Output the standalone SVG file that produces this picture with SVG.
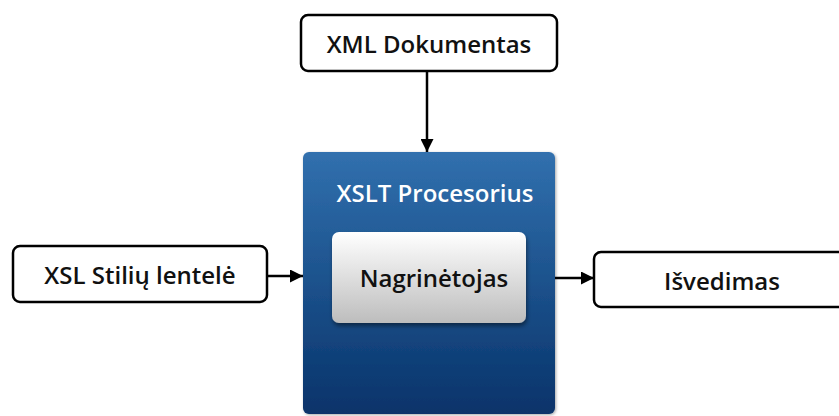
<svg xmlns="http://www.w3.org/2000/svg" width="839" height="416" viewBox="0 0 839 416">
<defs>
<linearGradient id="blue" x1="0" y1="0" x2="0" y2="1">
<stop offset="0" stop-color="#3170ae"/>
<stop offset="1" stop-color="#07336a"/>
</linearGradient>
<linearGradient id="grey" x1="0" y1="0" x2="0" y2="1">
<stop offset="0" stop-color="#ffffff"/>
<stop offset="1" stop-color="#bdbdbd"/>
</linearGradient>
<filter id="sh" x="-20%" y="-20%" width="140%" height="150%">
<feDropShadow dx="1" dy="3" stdDeviation="2" flood-color="#000" flood-opacity="0.45"/>
</filter>
<filter id="sh2" x="-20%" y="-20%" width="140%" height="140%">
<feDropShadow dx="1" dy="1" stdDeviation="1.5" flood-color="#000" flood-opacity="0.35"/>
</filter>
<marker id="arr" viewBox="0 0 10 10" refX="10" refY="5" markerWidth="13" markerHeight="13" markerUnits="userSpaceOnUse" orient="auto">
<path d="M0,0 L10,5 L0,10 z" fill="#000"/>
</marker>
</defs>
<style>
.box{fill:#fff;stroke:#000;stroke-width:2.5}
.t{font-family:"Open Sans","DejaVu Sans",sans-serif;font-size:24px;font-weight:600;text-anchor:middle;fill:#111}
.edge{stroke:#000;stroke-width:2.5;fill:none}
</style>
<g id="connectors">
<line class="edge" x1="427" y1="71" x2="427" y2="152" marker-end="url(#arr)"/>
<line class="edge" x1="267" y1="276" x2="303" y2="276" marker-end="url(#arr)"/>
<line class="edge" x1="555" y1="278" x2="594" y2="278" marker-end="url(#arr)"/>
</g>
<g id="xml">
<rect class="box" x="301" y="15" width="256" height="56" rx="7"/>
<text class="t" x="429" y="53">XML Dokumentas</text>
</g>
<g id="xsl">
<rect class="box" x="13" y="246" width="254" height="56" rx="7"/>
<text class="t" x="140" y="284">XSL Stilių lentelė</text>
</g>
<g id="out">
<rect class="box" x="594" y="252" width="270" height="55" rx="7"/>
<text class="t" x="722" y="290">Išvedimas</text>
</g>
<g id="proc">
<rect x="303" y="152" width="252" height="262" rx="6" fill="url(#blue)" filter="url(#sh2)"/>
<text class="t" x="435" y="202" style="fill:#fff">XSLT Procesorius</text>
</g>
<g id="parser">
<rect x="332" y="232" width="194" height="91" rx="7" fill="url(#grey)" filter="url(#sh)"/>
<text class="t" x="434" y="287">Nagrinėtojas</text>
</g>
</svg>
